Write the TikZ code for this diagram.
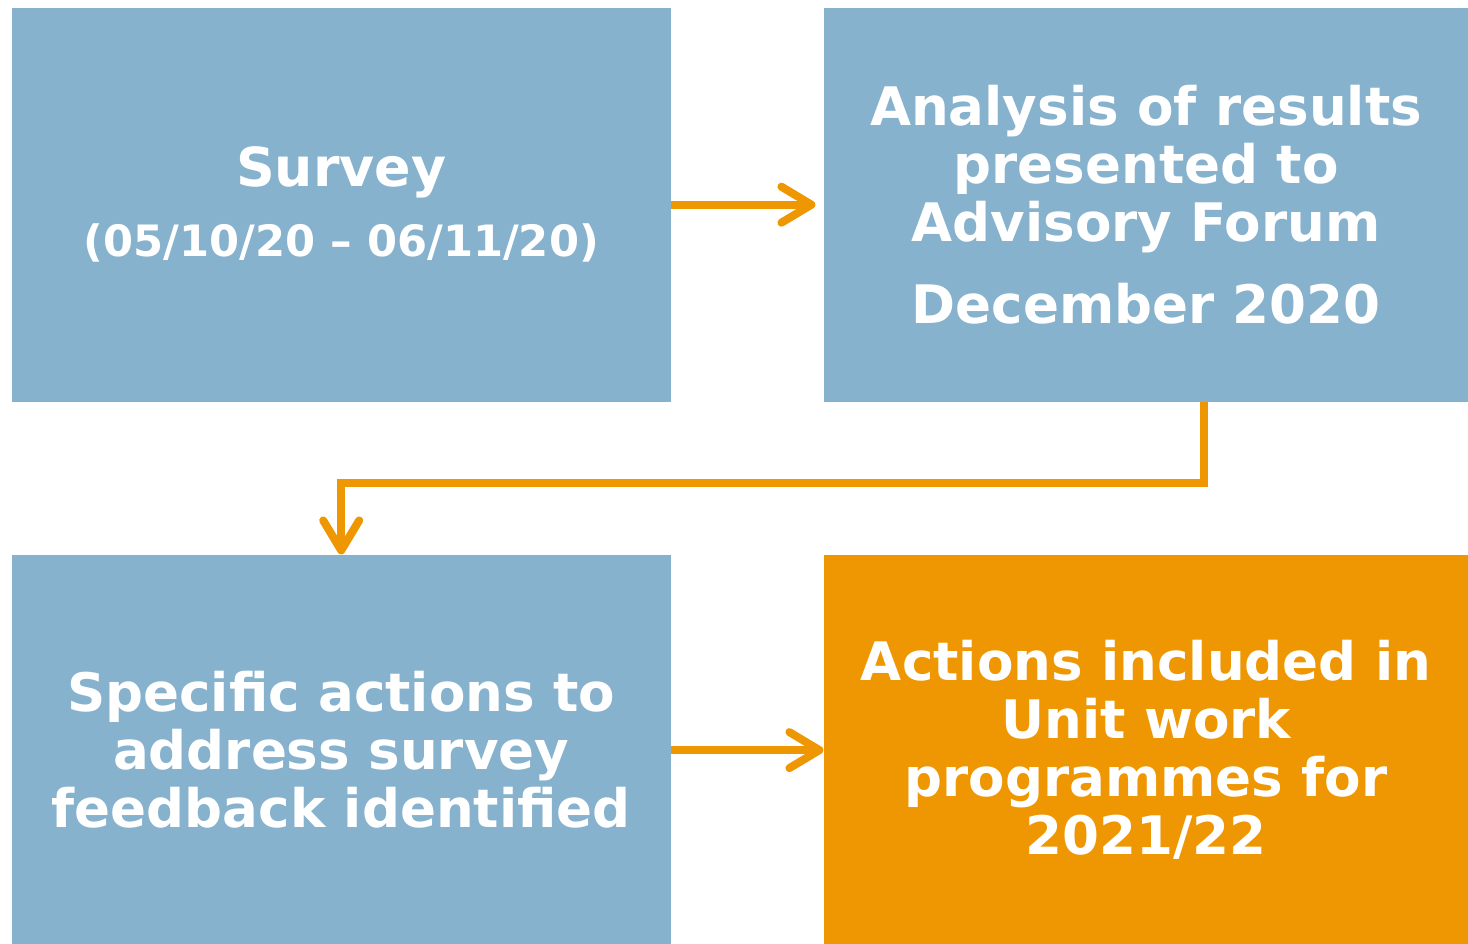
\documentclass[tikz,border=0pt]{standalone}
\usepackage{fontspec}
\setmainfont{DejaVu Sans}
\usepackage{xcolor}
\usetikzlibrary{arrows.meta, positioning, calc}

\definecolor{boxblue}{HTML}{86B2CD}
\definecolor{boxorange}{HTML}{EE9702}

\begin{document}
\begin{tikzpicture}[
    node distance=1.52cm,
    area/.style={rectangle, fill=boxblue, inner sep=0pt, minimum width=6.59cm, minimum height=3.94cm, align=center, text=white, font=\bfseries\fontsize{15.1}{16.5}\selectfont},
    arrow/.style={-{Straight Barb[length=0.3cm, width=0.36cm, round]}, line width=0.08cm, boxorange}
  ]
    \useasboundingbox (0,0) rectangle (14.68,-9.44);

    \node[area, anchor=north west] (survey) at (0.11,-0.07) {{\fontsize{15.3}{16.5}\selectfont Survey}\\[0.12cm] {\fontsize{12.3}{13}\selectfont (05/10/20 -- 06/11/20)}};
    \node[area, right=of survey, minimum width=6.44cm] (analysis) {Analysis of results\\ presented to\\ Advisory Forum\\[0.24cm] December 2020};
    \node[area, below=1.52cm of survey, minimum height=3.90cm] (specific) {Specific actions to\\ address survey\\ feedback identified};
    \node[area, right=of specific, minimum width=6.44cm, minimum height=3.90cm, fill=boxorange] (actions) {Actions included in\\ Unit work\\ programmes for\\ 2021/22};

    \draw[arrow, shorten >=0.08cm] (survey) -- (analysis);
    \draw[arrow] ($(analysis.south)+(0.58,0)$) -- ++(0,-0.81) -| (specific.north);
    \draw[arrow] (specific) -- (actions);
  \end{tikzpicture}
\end{document}
